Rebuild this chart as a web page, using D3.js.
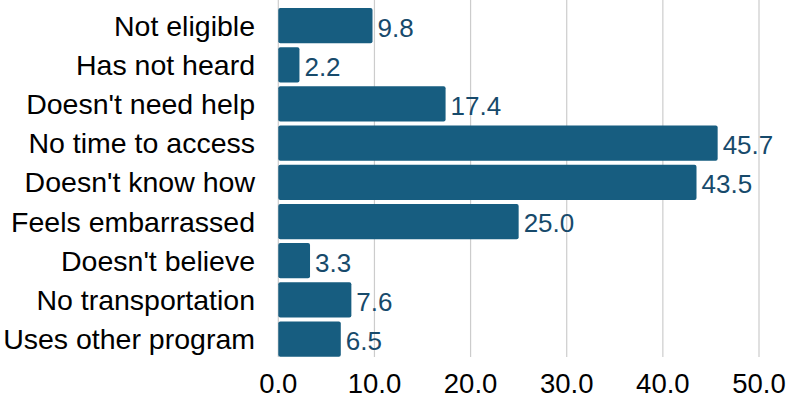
<!DOCTYPE html>
<html><head><meta charset="utf-8">
<script src="https://cdn.jsdelivr.net/npm/d3@7"></script>
<style>body{margin:0;background:#fff;}svg{display:block;font-family:"Liberation Sans",Arial,sans-serif;}</style>
</head><body>
<svg id="c" width="787" height="400"></svg>
<script>
const categories = ["Not eligible","Has not heard","Doesn't need help","No time to access","Doesn't know how","Feels embarrassed","Doesn't believe","No transportation","Uses other program"];
const values = [9.8,2.2,17.4,45.7,43.5,25.0,3.3,7.6,6.5];
const ticks = [0,10,20,30,40,50];

const svg = d3.select("#c");
const x = d3.scaleLinear().domain([0,50]).range([278.3,759]);
const y = d3.scaleBand().domain(categories).range([6,358.7]).paddingInner(0.1).paddingOuter(0.05);

svg.append("g").selectAll("line").data(ticks).join("line")
  .attr("x1",d=>x(d)).attr("x2",d=>x(d)).attr("y1",0).attr("y2",357)
  .attr("stroke","#cccccc").attr("stroke-width",1.2);

svg.append("g").selectAll("rect").data(values).join("rect")
  .attr("x",x(0)).attr("y",(d,i)=>y(categories[i]))
  .attr("width",d=>x(d)-x(0)).attr("height",y.bandwidth())
  .attr("rx",2).attr("fill","#175d80");

svg.append("g").selectAll("text").data(values).join("text")
  .attr("x",d=>x(d)+5).attr("y",(d,i)=>y(categories[i])+y.bandwidth()/2)
  .attr("dy","0.42em").attr("font-size",26).attr("fill","#174a6b")
  .text(d=>d.toFixed(1));

svg.append("g").selectAll("text").data(categories).join("text")
  .attr("x",255).attr("y",d=>y(d)+y.bandwidth()/2).attr("dy","0.35em")
  .attr("text-anchor","end").attr("font-size",28.5).attr("fill","#000")
  .text(d=>d);

svg.append("g").selectAll("text").data(ticks).join("text")
  .attr("x",d=>x(d)).attr("y",393).attr("text-anchor","middle")
  .attr("font-size",27.5).attr("fill","#000").text(d=>d.toFixed(1));
</script>
</body></html>
